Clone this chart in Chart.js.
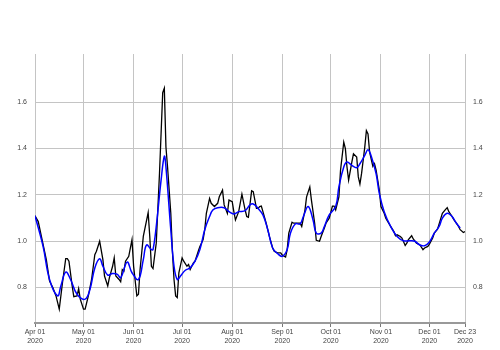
<!DOCTYPE html>
<html>
<head>
<meta charset="utf-8">
<script src="https://cdn.jsdelivr.net/npm/chart.js@4/dist/chart.umd.min.js"></script>
<style>
  html, body { margin: 0; padding: 0; background: #fff; }
</style>
</head>
<body>
<canvas id="chart" width="500" height="350"></canvas>
<script>
// hari sejak 1 April 2020, dan nilai garis hitam (harian)
const blackDays = [0, 2, 7, 9, 11, 13, 15, 17, 19, 20, 21, 23, 24, 26, 27, 28, 30, 31, 33, 35, 37, 38, 40, 42, 43, 45, 46, 48, 49, 50, 52, 53, 54, 55, 56, 58, 60, 61, 63, 64, 65, 67, 70, 71, 72, 73, 75, 77, 79, 80, 81, 82, 84, 85, 86, 87, 88, 89, 91, 92, 94, 95, 96, 98, 99, 101, 102, 104, 105, 106, 108, 109, 111, 113, 114, 116, 117, 119, 120, 122, 123, 124, 126, 128, 130, 131, 132, 134, 135, 137, 138, 139, 140, 141, 143, 145, 147, 148, 150, 152, 153, 155, 156, 157, 159, 160, 162, 164, 165, 167, 168, 170, 171, 173, 174, 176, 177, 179, 180, 182, 184, 185, 186, 188, 189, 191, 192, 193, 194, 196, 197, 199, 200, 201, 202, 204, 205, 206, 207, 209, 210, 211, 213, 214, 216, 217, 220, 222, 223, 224, 226, 227, 229, 230, 231, 233, 234, 236, 238, 240, 241, 243, 244, 246, 247, 249, 250, 252, 254, 255, 256, 258, 259, 260, 262, 263, 265, 266];
const blackVals = [1.109, 1.084, 0.920, 0.827, 0.799, 0.763, 0.706, 0.820, 0.924, 0.924, 0.913, 0.806, 0.760, 0.763, 0.794, 0.749, 0.706, 0.706, 0.763, 0.834, 0.941, 0.956, 0.999, 0.920, 0.849, 0.806, 0.841, 0.891, 0.927, 0.849, 0.834, 0.824, 0.877, 0.870, 0.913, 0.934, 1.006, 0.891, 0.763, 0.770, 0.877, 1.020, 1.123, 1.020, 0.891, 0.881, 0.991, 1.291, 1.641, 1.660, 1.406, 1.320, 1.120, 0.956, 0.834, 0.763, 0.756, 0.863, 0.927, 0.913, 0.891, 0.899, 0.877, 0.906, 0.913, 0.956, 0.977, 1.006, 1.049, 1.120, 1.184, 1.163, 1.149, 1.163, 1.191, 1.220, 1.156, 1.120, 1.177, 1.170, 1.127, 1.091, 1.127, 1.203, 1.134, 1.106, 1.103, 1.217, 1.213, 1.141, 1.141, 1.149, 1.151, 1.127, 1.077, 1.020, 0.970, 0.956, 0.949, 0.949, 0.939, 0.931, 0.963, 1.034, 1.081, 1.077, 1.077, 1.077, 1.063, 1.134, 1.191, 1.234, 1.177, 1.077, 1.003, 0.999, 1.020, 1.056, 1.077, 1.099, 1.151, 1.151, 1.134, 1.191, 1.306, 1.427, 1.399, 1.320, 1.263, 1.341, 1.377, 1.363, 1.277, 1.246, 1.291, 1.406, 1.477, 1.463, 1.384, 1.323, 1.334, 1.306, 1.220, 1.149, 1.120, 1.099, 1.063, 1.041, 1.023, 1.027, 1.020, 1.013, 0.981, 0.991, 1.006, 1.023, 1.009, 0.991, 0.984, 0.963, 0.970, 0.977, 0.987, 1.013, 1.034, 1.051, 1.074, 1.120, 1.137, 1.144, 1.127, 1.106, 1.094, 1.084, 1.063, 1.049, 1.037, 1.041];

// garis biru (dihaluskan)
const blueDays = [0, 5, 9, 14, 16, 19, 22, 26, 31, 34, 37, 40, 42, 45, 48, 51, 53, 57, 60, 64, 67, 69, 72, 73, 75, 78, 80, 81, 84, 86, 88, 90, 93, 96, 99, 102, 105, 108, 110, 113, 117, 120, 123, 126, 130, 133, 135, 138, 141, 144, 147, 150, 153, 156, 158, 161, 164, 166, 169, 172, 174, 177, 179, 182, 186, 188, 191, 193, 196, 199, 201, 204, 206, 208, 211, 213, 216, 220, 224, 228, 232, 235, 238, 241, 244, 247, 250, 252, 255, 258, 260, 263];
const blueVals = [1.109, 0.977, 0.834, 0.763, 0.806, 0.866, 0.834, 0.770, 0.749, 0.791, 0.884, 0.924, 0.891, 0.853, 0.860, 0.856, 0.841, 0.909, 0.863, 0.834, 0.920, 0.983, 0.963, 0.963, 1.063, 1.263, 1.366, 1.320, 1.049, 0.891, 0.834, 0.849, 0.874, 0.884, 0.913, 0.963, 1.049, 1.106, 1.134, 1.144, 1.144, 1.127, 1.117, 1.127, 1.131, 1.156, 1.160, 1.141, 1.113, 1.049, 0.970, 0.946, 0.934, 0.963, 1.034, 1.074, 1.074, 1.106, 1.149, 1.091, 1.034, 1.034, 1.063, 1.113, 1.149, 1.234, 1.320, 1.341, 1.327, 1.317, 1.334, 1.370, 1.394, 1.366, 1.291, 1.206, 1.127, 1.063, 1.020, 1.001, 1.001, 0.999, 0.983, 0.980, 0.996, 1.034, 1.063, 1.099, 1.120, 1.106, 1.084, 1.056];

// label sumbu
const xTickDays = [0, 30, 61, 91, 122, 153, 183, 214, 244, 266];
const xTickLabels = ['Apr 01', 'May 01', 'Jun 01', 'Jul 01', 'Aug 01', 'Sep 01', 'Oct 01', 'Nov 01', 'Dec 01', 'Dec 23'];
const yTicks = [0.8, 1.0, 1.2, 1.4, 1.6];

const toPoints = (days, vals) => days.map((d, i) => ({ x: d, y: vals[i] }));

const labelFont = { family: 'Liberation Sans, Arial, sans-serif', size: 7 };

const ctx = document.getElementById('chart').getContext('2d');
new Chart(ctx, {
  type: 'line',
  data: {
    datasets: [
      {
        data: toPoints(blueDays, blueVals),
        borderColor: '#0000ff',
        borderWidth: 1.5,
        pointRadius: 0,
        tension: 0.4,
        fill: false,
        order: 0,
      },
      {
        data: toPoints(blackDays, blackVals),
        borderColor: '#000000',
        borderWidth: 1.3,
        pointRadius: 0,
        tension: 0,
        fill: false,
        order: 1,
      },
    ],
  },
  options: {
    responsive: false,
    animation: false,
    layout: { padding: { top: 54, left: 0, right: 0, bottom: 0 } },
    plugins: { legend: { display: false }, tooltip: { enabled: false } },
    scales: {
      x: {
        type: 'linear',
        min: 0,
        max: 266,
        afterBuildTicks: (scale) => { scale.ticks = xTickDays.map((v) => ({ value: v })); },
        afterFit: (scale) => { scale.height = 27; },
        ticks: {
          autoSkip: false,
          maxRotation: 0,
          padding: 1,
          color: '#444',
          font: labelFont,
          callback: (v) => {
            const i = xTickDays.indexOf(v);
            return i >= 0 ? [xTickLabels[i], '2020'] : '';
          },
        },
        grid: { color: '#c4c4c4', lineWidth: 1, tickLength: 4, tickColor: '#777' },
        border: { display: true, color: '#999', width: 2 },
      },
      y: {
        position: 'left',
        min: 0.646,
        max: 1.808,
        afterBuildTicks: (scale) => { scale.ticks = yTicks.map((v) => ({ value: v })); },
        afterFit: (scale) => { scale.width = 35; },
        ticks: { color: '#444', font: labelFont, padding: 8, callback: (v) => v.toFixed(1) },
        grid: { color: '#c4c4c4', lineWidth: 1, drawTicks: false },
        border: { display: false },
      },
      y2: {
        position: 'right',
        min: 0.646,
        max: 1.808,
        afterBuildTicks: (scale) => { scale.ticks = yTicks.map((v) => ({ value: v })); },
        afterFit: (scale) => { scale.width = 35; },
        ticks: { color: '#444', font: labelFont, padding: 8, callback: (v) => v.toFixed(1) },
        grid: { display: false, drawTicks: false },
        border: { display: false },
      },
    },
  },
});
</script>
</body>
</html>
